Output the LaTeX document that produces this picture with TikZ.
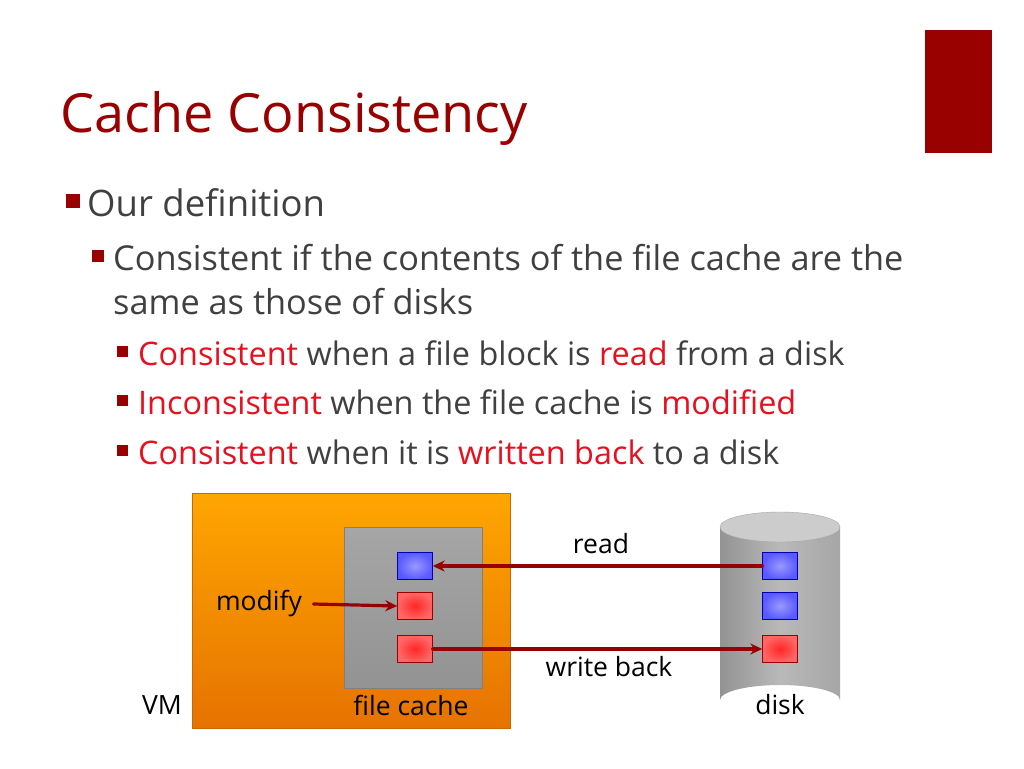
\documentclass[tikz,border=0pt]{standalone}
\usepackage{fontspec}
\setmainfont{Open Sans}
\usetikzlibrary{arrows.meta,shapes.geometric}
\definecolor{darkred}{HTML}{990000}
\definecolor{hired}{HTML}{E8101E}
\definecolor{txt}{HTML}{404040}
\tikzset{
  txtnode/.style={anchor=west,inner sep=0pt,text=txt},
  bullet/.style={fill=darkred,minimum size=#1,inner sep=0pt},
  blueblk/.style={draw=blue!70!black,inner color=blue!40!white,outer color=blue!65!white,minimum width=35pt,minimum height=27pt,inner sep=0pt},
  redblk/.style={draw=darkred,inner color=red!85!white,outer color=red!60!white,minimum width=35pt,minimum height=27pt,inner sep=0pt},
  flow/.style={darkred,line width=3.2pt,-{Stealth[length=12pt,width=11pt]}}
}
\begin{document}
\begin{tikzpicture}[x=1pt,y=-1pt,line cap=round,line join=round]
\useasboundingbox (0,0) rectangle (1024,768);
\fill[darkred] (925,30) rectangle (992,153);
\node[anchor=west,inner sep=0pt,text=darkred,font=\fontsize{54}{56}\selectfont] (title) at (60,118) {Cache Consistency};

\node[bullet=14pt] (b1) at (73,201) {};
\node[txtnode,font=\fontsize{36.5}{38}\selectfont] (l1) at (87,203) {Our definition};
\node[bullet=12pt] (b2) at (98,256) {};
\node[txtnode,font=\fontsize{34.3}{36}\selectfont] (l2) at (113,258) {Consistent if the contents of the file cache are the};
\node[txtnode,font=\fontsize{34.3}{36}\selectfont] (l2b) at (113,302) {same as those of disks};
\node[bullet=11pt] (b3) at (122,351) {};
\node[txtnode,font=\fontsize{32.4}{34}\selectfont] (l3) at (138,353) {\textcolor{hired}{Consistent} when a file block is \textcolor{hired}{read} from a disk};
\node[bullet=11pt] (b4) at (122,400) {};
\node[txtnode,font=\fontsize{32.4}{34}\selectfont] (l4) at (138,402) {\textcolor{hired}{Inconsistent} when the file cache is \textcolor{hired}{modified}};
\node[bullet=11pt] (b5) at (122,450) {};
\node[txtnode,font=\fontsize{32.4}{34}\selectfont] (l5) at (138,452) {\textcolor{hired}{Consistent} when it is \textcolor{hired}{written back} to a disk};

% VM and file cache
\shade[top color=orange!70!yellow,bottom color=orange!90!black,draw=orange!80!black] (192,493) rectangle (510,728);
\shade[top color=gray!70,bottom color=gray!85,draw=gray] (344,527) rectangle (482,688);
% disk
\shade[left color=gray!85,right color=gray!70,middle color=gray!55] (720,527) -- (720,700) arc[start angle=180,end angle=360,x radius=60,y radius=15] -- (840,527) -- cycle;
\fill[gray!40,draw=gray!70] (780,527) ellipse[x radius=60,y radius=15];

\node[blueblk] (c1) at (415,566) {};
\node[redblk] (c2) at (415,606) {};
\node[redblk] (c3) at (415,649) {};
\node[blueblk] (d1) at (780,566) {};
\node[blueblk] (d2) at (780,606) {};
\node[redblk] (d3) at (780,649) {};

\node[font=\fontsize{26.5}{28}\selectfont] (modify) at (259,604) {modify};
\node[font=\fontsize{26.5}{28}\selectfont] (read) at (601,544) {read};
\node[font=\fontsize{26.5}{28}\selectfont] (wb) at (609,667) {write back};
\node[font=\fontsize{26.5}{28}\selectfont] (vm) at (162,705) {VM};
\node[font=\fontsize{26.5}{28}\selectfont] (fc) at (411,705) {file cache};
\node[font=\fontsize{26.5}{28}\selectfont] (disk) at (780,705) {disk};

\draw[flow] (d1.west) -- (c1.east);
\draw[flow] ([xshift=8pt]modify.east) -- (c2.west);
\draw[flow] (c3.east) -- (d3.west);
\end{tikzpicture}
\end{document}
